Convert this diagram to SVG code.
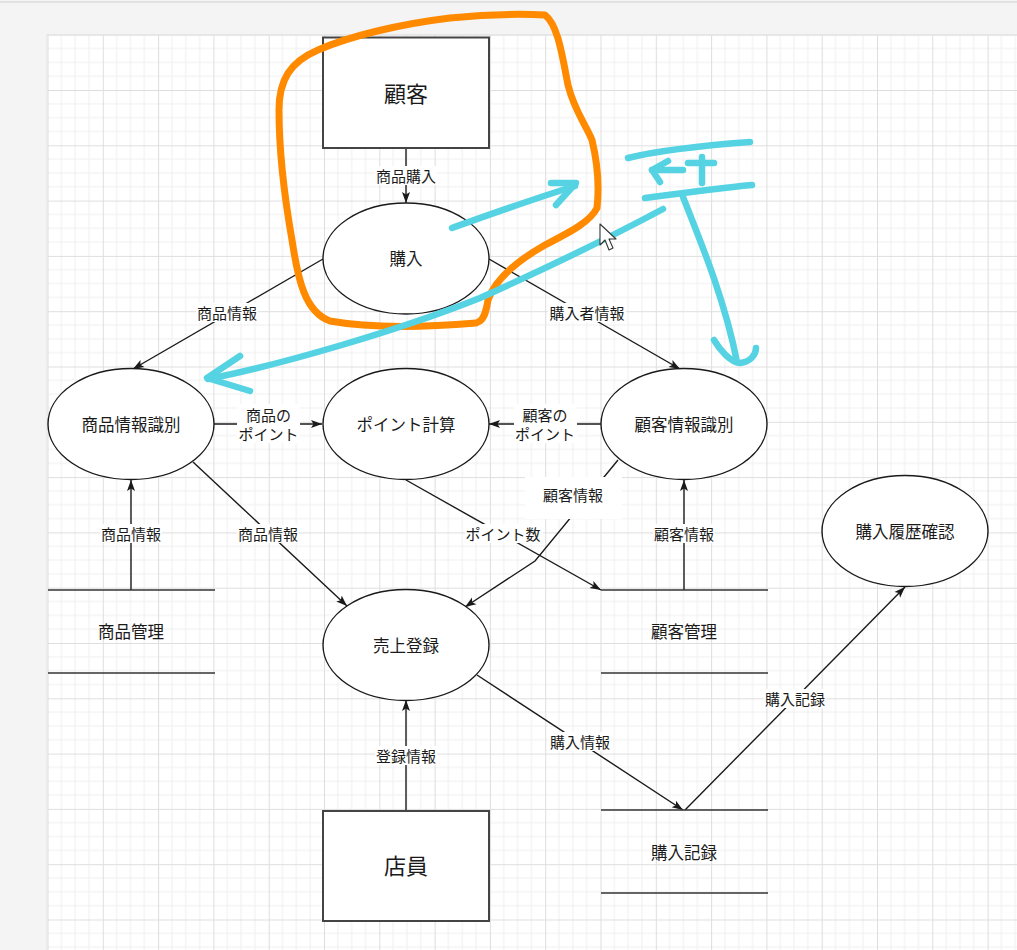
<svg xmlns="http://www.w3.org/2000/svg" width="1017" height="950" viewBox="0 0 1017 950">
  <style>
    .t { font-family: "Noto Sans CJK JP", "Noto Sans", sans-serif; fill: #1a1a1a; text-anchor: middle; dominant-baseline: central; }
    .node { font-size: 16.5px; }
    .big { font-size: 22px; }
    .lbl { font-size: 15px; }
    .shape { fill: #ffffff; stroke: #1a1a1a; stroke-width: 1.4; }
    .box { fill: #ffffff; stroke: #444444; stroke-width: 2; }
    .store { stroke: #333333; stroke-width: 1.5; fill: none; }
    .edge { stroke: #1a1a1a; stroke-width: 1.4; fill: none; }
    .arr { marker-end: url(#arrow); }
    .lbg { fill: #ffffff; }
    .orange { stroke: #ff8a00; stroke-width: 7; fill: none; stroke-linecap: round; stroke-linejoin: round; }
    .blue { stroke: #55d3e3; stroke-width: 6.5; fill: none; stroke-linecap: round; stroke-linejoin: round; }
  </style>
  <defs>
    <pattern id="grid" x="47.5" y="34.7" width="55.3" height="55.3" patternUnits="userSpaceOnUse">
      <rect width="55.3" height="55.3" fill="#ffffff"/>
      <path d="M13.83 0V55.3M27.65 0V55.3M41.48 0V55.3M0 13.83H55.3M0 27.65H55.3M0 41.48H55.3" stroke="#f0f0f0" stroke-width="1"/>
      <path d="M0.5 0V55.3M0 0.5H55.3" stroke="#dedede" stroke-width="1"/>
    </pattern>
    <marker id="arrow" viewBox="0 0 11 9" refX="11" refY="4.5" markerWidth="11" markerHeight="9" markerUnits="userSpaceOnUse" orient="auto">
      <path d="M0,0.5 L11,4.5 L0,8.5 L2.5,4.5 Z" fill="#1a1a1a"/>
    </marker>
  </defs>

  <!-- background / canvas -->
  <rect x="0" y="0" width="1017" height="950" fill="#f4f4f4"/>
  <rect x="0" y="1" width="1017" height="2" fill="#e2e2e2"/>
  <rect x="46.5" y="34" width="971" height="916" fill="#e6e6e6"/>
  <rect x="47.5" y="35" width="970" height="915" fill="url(#grid)"/>

  <!-- connectors -->
  <g id="connectors">
    <line class="edge arr" x1="406" y1="148" x2="406" y2="203"/>
    <line class="edge arr" x1="323" y1="259" x2="133" y2="369"/>
    <line class="edge arr" x1="489" y1="259" x2="680" y2="369"/>
    <line class="edge arr" x1="214" y1="424" x2="322" y2="424"/>
    <line class="edge arr" x1="601" y1="424" x2="489" y2="424"/>
    <line class="edge arr" x1="193" y1="462" x2="347" y2="606"/>
    <line class="edge arr" x1="406" y1="480" x2="601" y2="590"/>
    <polyline class="edge arr" points="618,460 535,561 465,607"/>
    <line class="edge arr" x1="131" y1="590" x2="131" y2="480"/>
    <line class="edge arr" x1="684" y1="590" x2="684" y2="480"/>
    <line class="edge arr" x1="406" y1="811" x2="406" y2="700"/>
    <line class="edge arr" x1="477" y1="675" x2="683" y2="810"/>
    <line class="edge arr" x1="685" y1="810" x2="905" y2="587"/>

    <!-- labels -->
    <rect class="lbg" x="375" y="166" width="62" height="19"/>
    <text class="t lbl" x="406" y="175">商品購入</text>
    <rect class="lbg" x="196" y="303" width="62" height="19"/>
    <text class="t lbl" x="227" y="312">商品情報</text>
    <rect class="lbg" x="548" y="303" width="78" height="19"/>
    <text class="t lbl" x="587" y="312">購入者情報</text>
    <rect class="lbg" x="237" y="404" width="63" height="39"/>
    <text class="t lbl" x="268.5" y="414">商品の</text>
    <text class="t lbl" x="268.5" y="433">ポイント</text>
    <rect class="lbg" x="514" y="404" width="63" height="39"/>
    <text class="t lbl" x="545" y="414">顧客の</text>
    <text class="t lbl" x="545" y="433">ポイント</text>
    <rect class="lbg" x="100" y="524" width="62" height="19"/>
    <text class="t lbl" x="131" y="533">商品情報</text>
    <rect class="lbg" x="237" y="524" width="62" height="19"/>
    <text class="t lbl" x="268" y="533">商品情報</text>
    <rect class="lbg" x="465" y="524" width="78" height="19"/>
    <text class="t lbl" x="503" y="533">ポイント数</text>
    <rect class="lbg" x="525" y="477" width="97" height="42"/>
    <text class="t lbl" x="573" y="494">顧客情報</text>
    <rect class="lbg" x="653" y="524" width="62" height="19"/>
    <text class="t lbl" x="684" y="533">顧客情報</text>
    <rect class="lbg" x="375" y="746" width="62" height="19"/>
    <text class="t lbl" x="406" y="755">登録情報</text>
    <rect class="lbg" x="549" y="732" width="62" height="19"/>
    <text class="t lbl" x="580" y="741">購入情報</text>
    <rect class="lbg" x="764" y="689" width="62" height="19"/>
    <text class="t lbl" x="795" y="698">購入記録</text>
  </g>

  <!-- nodes -->
  <g id="kokyaku">
    <rect class="box" x="323" y="37.5" width="166" height="110.5"/>
    <text class="t big" x="406" y="92">顧客</text>
  </g>
  <g id="kounyu">
    <ellipse class="shape" cx="406" cy="258.5" rx="83" ry="55.5"/>
    <text class="t node" x="406" y="258">購入</text>
  </g>
  <g id="shohin-shikibetsu">
    <ellipse class="shape" cx="131" cy="424" rx="83" ry="55.5"/>
    <text class="t node" x="131" y="424">商品情報識別</text>
  </g>
  <g id="point-keisan">
    <ellipse class="shape" cx="406" cy="424" rx="83" ry="55.5"/>
    <text class="t node" x="406" y="424">ポイント計算</text>
  </g>
  <g id="kokyaku-shikibetsu">
    <ellipse class="shape" cx="684" cy="424" rx="83" ry="55.5"/>
    <text class="t node" x="684" y="424">顧客情報識別</text>
  </g>
  <g id="rireki">
    <ellipse class="shape" cx="905" cy="531" rx="83" ry="55.5"/>
    <text class="t node" x="905" y="531">購入履歴確認</text>
  </g>
  <g id="uriage">
    <ellipse class="shape" cx="406" cy="645" rx="83" ry="55.5"/>
    <text class="t node" x="406" y="645">売上登録</text>
  </g>
  <g id="shohin-kanri">
    <line class="store" x1="48" y1="590" x2="215" y2="590"/>
    <line class="store" x1="48" y1="673" x2="215" y2="673"/>
    <text class="t node" x="131" y="631">商品管理</text>
  </g>
  <g id="kokyaku-kanri">
    <line class="store" x1="601" y1="590" x2="768" y2="590"/>
    <line class="store" x1="601" y1="673" x2="768" y2="673"/>
    <text class="t node" x="684" y="631">顧客管理</text>
  </g>
  <g id="kounyu-kiroku">
    <line class="store" x1="601" y1="810" x2="768" y2="810"/>
    <line class="store" x1="601" y1="893" x2="768" y2="893"/>
    <text class="t node" x="684" y="852">購入記録</text>
  </g>
  <g id="tenin">
    <rect class="box" x="323" y="811" width="166" height="110"/>
    <text class="t big" x="406" y="864">店員</text>
  </g>

  <!-- hand-drawn annotations -->
  <g id="annotations">
    <path class="orange" d="M 476 323 C 440 326, 380 330, 330 321 C 305 312, 298 280, 292 240 C 285 200, 279 150, 279 110 C 279 80, 290 62, 318 50 C 350 36, 400 24, 450 18 C 490 14, 525 14, 545 15 C 558 25, 562 55, 568 85 C 574 110, 586 125, 592 140 C 598 165, 599 190, 597 208 C 590 222, 570 232, 545 245 C 515 262, 495 280, 488 300 C 486 312, 484 320, 478 322"/>
    <path class="blue" d="M 452 228 C 480 218, 530 200, 575 186"/>
    <path class="blue" d="M 551 183 L 576 183 L 556 205"/>
    <path class="blue" d="M 663 209 C 620 232, 560 262, 480 298 C 400 330, 280 365, 208 379"/>
    <path class="blue" d="M 240 356 L 207 378 L 250 391"/>
    <path class="blue" d="M 628 158 C 660 150, 710 145, 750 142"/>
    <path class="blue" d="M 683 170 L 652 170"/>
    <path class="blue" d="M 668 161 L 652 170 L 660 182"/>
    <path class="blue" d="M 688 163 L 714 163"/>
    <path class="blue" d="M 702 157 L 702 183"/>
    <path class="blue" d="M 645 198 C 690 192, 720 188, 752 185"/>
    <path class="blue" d="M 683 197 C 700 240, 725 300, 737 362"/>
    <path class="blue" d="M 714 340 C 720 350, 730 362, 740 363 C 750 362, 756 355, 756 348"/>
    <path d="M 600 224 L 600 245 L 605 240 L 609 250 L 613 248 L 609 239 L 616 239 Z" fill="#ffffff" stroke="#333333" stroke-width="1.1" stroke-linejoin="round"/>
  </g>
</svg>
